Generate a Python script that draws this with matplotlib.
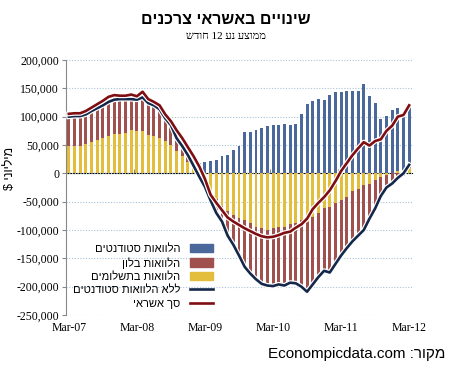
import matplotlib
matplotlib.use('Agg')
import matplotlib.pyplot as plt
import matplotlib.patheffects as pe
from matplotlib.patches import Patch
from matplotlib.lines import Line2D
import numpy as np

# monthly 12-month changes, Mar-07 .. Mar-12 (millions $)
tick_labels = ['Mar-07', 'Mar-08', 'Mar-09', 'Mar-10', 'Mar-11', 'Mar-12']

installment = [49, 49, 49, 51, 55, 59, 63, 66, 69, 70, 71, 76, 74, 74, 67, 66, 62, 57, 50, 40,
               30, 20, 8, -3, -18, -34, -46, -58, -67, -74, -79, -82, -88, -94, -97, -100, -97, -95, -94, -89,
               -88, -83, -85, -77, -70, -62, -59, -53, -47, -42, -31, -27, -21, -18, -12, -7, -3, 1, 4, 6,
               10]
balloon = [51, 52, 52, 53, 55, 56, 57, 60, 61, 61, 60, 55, 56, 60, 57, 54, 51, 40, 35, 22,
           18, 12, 5, -3, -6, -14, -24, -27, -43, -52, -66, -83, -89, -93, -98, -98, -102, -101, -104, -104,
           -106, -117, -124, -119, -113, -110, -116, -107, -98, -90, -89, -83, -79, -62, -50, -33, -22, -19, -12, -4,
           5]
student = [5, 5, 5, 6, 6, 7, 8, 9, 8, 6, 6, 8, 6, 10, 7, 6, 7, 7, 7, 14,
           14, 14, 17, 18, 20, 21, 23, 30, 32, 41, 49, 73, 73, 76, 80, 84, 86, 86, 87, 86,
           87, 105, 122, 128, 131, 130, 138, 143, 143, 146, 146, 146, 158, 137, 124, 96, 102, 111, 112, 101,
           104]
no_student = [100, 101, 101, 104, 110, 115, 120, 126, 130, 131, 131, 131, 130, 134, 124, 120, 113, 97, 85, 62,
              48, 32, 13, -6, -24, -48, -70, -85, -110, -126, -145, -165, -177, -187, -195, -198, -199, -196, -198, -193,
              -194, -200, -209, -196, -183, -172, -175, -160, -145, -132, -120, -110, -100, -80, -62, -40, -25, -18, -8, 0,
              15]
total_credit = [105, 106, 106, 110, 116, 122, 128, 135, 138, 137, 137, 139, 136, 144, 131, 126, 120, 104, 92, 76,
                62, 46, 30, 12, -10, -38, -52, -65, -78, -85, -91, -97, -102, -107, -111, -113, -112, -109, -105, -103,
                -96, -90, -80, -63, -52, -42, -30, -14, 4, 18, 32, 44, 55, 49, 57, 60, 75, 84, 100, 103,
                120]

c_blue = '#4A6899'
c_red = '#A0504D'
c_yellow = '#E2BE3C'
c_navy = '#14284B'
c_dred = '#7E0E12'

fig = plt.figure(figsize=(4.5, 3.69), dpi=100)
ax = fig.add_axes([66 / 450, 1 - 315 / 369, 346 / 450, 255 / 369])

x = np.arange(len(installment))
pos_bottom = np.zeros(len(x))
neg_bottom = np.zeros(len(x))
for vals, col in [(installment, c_yellow), (balloon, c_red), (student, c_blue)]:
    v = np.array(vals, dtype=float) * 1000
    bottom = np.where(v >= 0, pos_bottom, neg_bottom)
    ax.bar(x, v, 0.52, bottom=bottom, color=col, linewidth=0, zorder=2)
    pos_bottom += np.where(v >= 0, v, 0)
    neg_bottom += np.where(v < 0, v, 0)

halo = [pe.Stroke(linewidth=3.6, foreground='white'), pe.Normal()]
ax.plot(x, np.array(no_student) * 1000, color=c_navy, lw=1.9, zorder=4, path_effects=halo)
ax.plot(x, np.array(total_credit) * 1000, color=c_dred, lw=1.9, zorder=5, path_effects=halo)

ax.set_xlim(-0.5, len(x) - 0.5)
ax.set_ylim(-250000, 200000)
yt = np.arange(-250000, 200001, 50000)
ax.set_yticks(yt)
ax.set_yticklabels(['{:,}'.format(v) for v in yt], family='Liberation Serif', fontsize=8.5)
ax.yaxis.grid(True, linestyle=(0, (1, 1.5)), color='#A9C3D9', lw=0.8, zorder=0)
ax.set_xticks(np.arange(0, len(x), 12))
ax.set_xticklabels(tick_labels, family='Liberation Serif', fontsize=8.5)
ax.tick_params(axis='x', length=0, pad=5)
ax.tick_params(axis='y', length=3, pad=2, color='#888888')
for s in ['top', 'right', 'bottom']:
    ax.spines[s].set_visible(False)
ax.spines['left'].set_color('#888888')

# horizontal axis at zero with category tick marks
zero_frac = (0 - ax.get_ylim()[0]) / (ax.get_ylim()[1] - ax.get_ylim()[0])
sec = ax.secondary_xaxis(zero_frac)
sec.set_xticks(np.arange(11.5, len(x), 12))
sec.set_xticklabels([])
sec.tick_params(length=3, color='#888888')
sec.spines['bottom'].set_color('#888888')

def rtl(s):
    return s[::-1]

heb = ['Liberation Sans', 'DejaVu Sans']
handles = [Patch(color=c_blue), Patch(color=c_red), Patch(color=c_yellow),
           Line2D([], [], color=c_navy, lw=1.9), Line2D([], [], color=c_dred, lw=1.9)]
labels = [rtl('הלוואות סטודנטים'), rtl('הלוואות בלון'), rtl('הלוואות בתשלומים'),
          rtl('ללא הלוואות סטודנטים'), rtl('סך אשראי')]
leg = ax.legend(handles, labels, loc='upper right', bbox_to_anchor=(219 / 450, 1 - 238 / 369),
                bbox_transform=fig.transFigure, frameon=False, markerfirst=False,
                prop={'family': heb, 'size': 8}, handlelength=2.1, handleheight=0.8,
                handletextpad=0.9, labelspacing=0.3, borderpad=0)

fig.text(0.502, 0.946, rtl('שינויים באשראי צרכנים'), ha='center', va='center',
         family=heb, fontsize=11.5, fontweight='bold')
fig.text(0.502, 0.900, rtl('חודש') + ' 12 ' + rtl('נע') + ' ' + rtl('ממוצע'), ha='center', va='center',
         family=['Liberation Serif', 'DejaVu Sans'], fontsize=8)
fig.text(10 / 450, 1 - 168 / 369, '$ ' + rtl('מיליוני'), rotation=90, ha='center', va='center',
         family=heb, fontsize=9)
fig.text(0.99, 1 - 354 / 369, 'Econompicdata.com :' + rtl('מקור'), ha='right', va='center',
         family=heb, fontsize=11)

fig.savefig('out.png', dpi=100)
